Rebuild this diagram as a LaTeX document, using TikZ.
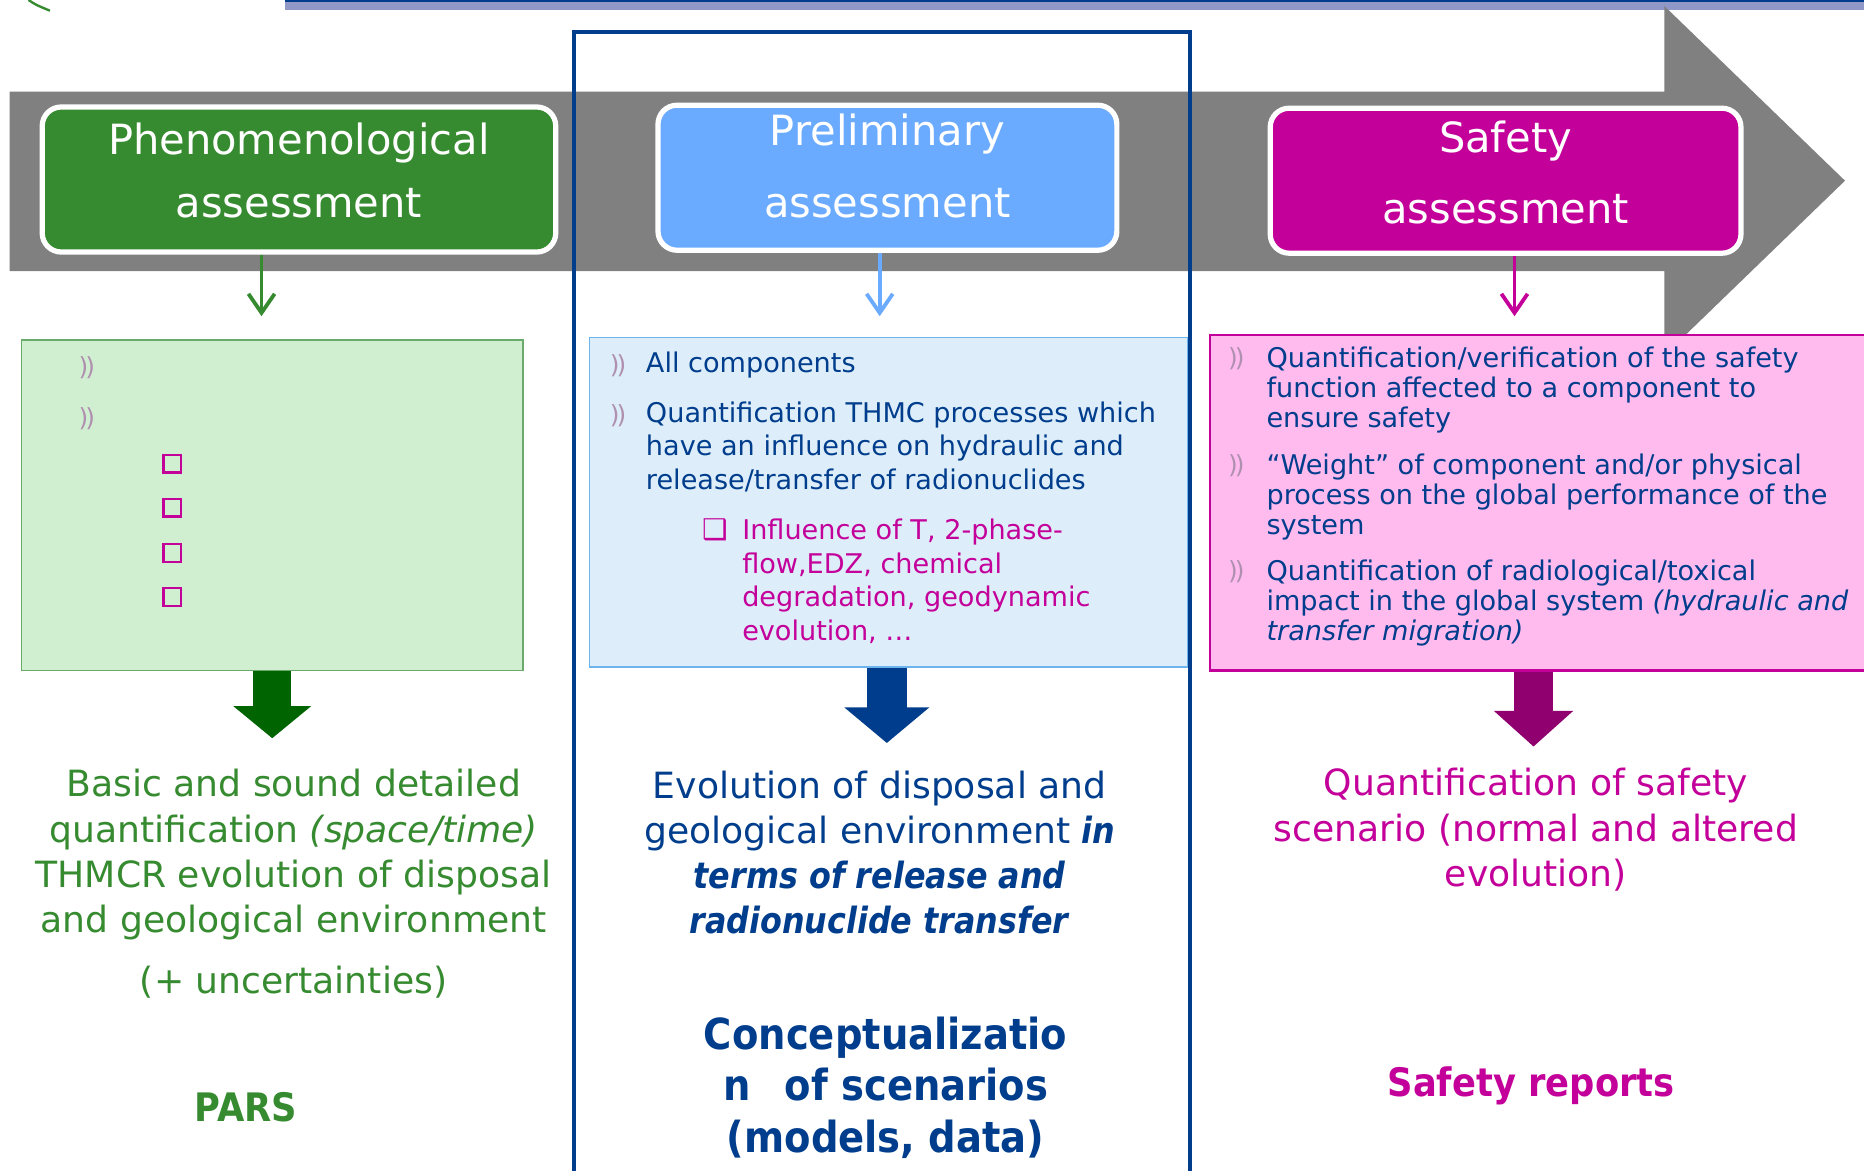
\documentclass[tikz,border=0pt]{standalone}
\usepackage{fontspec}
\setmainfont{DejaVu Sans}[BoldFeatures={FakeStretch=0.9},BoldItalicFeatures={FakeStretch=0.88}]
\usetikzlibrary{arrows.meta,positioning}

\definecolor{bandgray}{HTML}{808080}
\definecolor{phengreen}{HTML}{368A2F}
\definecolor{prelblue}{HTML}{6AAAFF}
\definecolor{safemag}{HTML}{C4009A}
\definecolor{navy}{HTML}{003D8C}
\definecolor{palegreen}{HTML}{D0EFD0}
\definecolor{edgegreen}{HTML}{6AAA6A}
\definecolor{paleblue}{HTML}{DDEEFA}
\definecolor{edgeblue}{HTML}{6CB4EC}
\definecolor{palepink}{HTML}{FFBBEE}
\definecolor{darkgreen}{HTML}{006400}
\definecolor{darkmag}{HTML}{90006E}
\definecolor{bulletgray}{HTML}{B090B0}
\definecolor{lavender}{HTML}{9098C8}

\newcommand{\chev}{)\kern-.12em)}

\tikzset{
  phase/.style={rounded corners=8pt, draw=white, line width=2.2pt, minimum height=61pt, inner sep=0pt},
  phase label/.style={text=white, align=center, font=\fontsize{17.5}{28}\selectfont, inner sep=0pt},
  panel/.style={line width=0.7pt, inner sep=0pt},
  thin arrow/.style={line width=1.6pt, -{Straight Barb[length=8pt,width=11pt]}},
  fat arrow/.style n args={3}{line width=#1, -{Triangle[width=#2,length=#3]}},
  chevron/.style={inner sep=0pt, text=bulletgray, font=\fontsize{10.5}{10.5}\selectfont},
  tickbox/.style={draw=safemag, fill=palegreen, line width=1pt, minimum size=7.5pt, inner sep=0pt},
  item/.style={anchor=base west, align=left, inner sep=0pt, text=navy},
  outcome/.style={align=center, inner sep=0pt, font=\fontsize{15.2}{19}\selectfont},
  verdict/.style={inner sep=0pt, font=\bfseries\fontsize{16.5}{19}\selectfont}
}

\begin{document}
\begin{tikzpicture}[x=0.5pt,y=-0.5pt]
\useasboundingbox (0,0) rectangle (1568,985);

% slide header remains
\fill[lavender] (240,0) rectangle (1568,8);
\draw[navy,line width=1pt] (240,0.5) -- (1568,0.5);
\draw[phengreen,line width=1pt] (24,0) .. controls (30,4) .. (42,9);

% grey process arrow
\fill[bandgray] (8,77) -- (1400,77) -- (1400,5) -- (1552,152) -- (1400,299) -- (1400,228) -- (8,228) -- cycle;

% the three phases
\node[phase, fill=phengreen, minimum width=216pt] (phen) at (251.5,151) {};
\node[phase label, font=\fontsize{17.5}{26.5}\selectfont] (phenlbl) at ([yshift=4pt]phen.center) {Phenomenological\\assessment};
\node[phase, fill=prelblue, minimum width=193pt] (prel) at (746.5,149.5) {};
\node[phase label, font=\fontsize{17.5}{30}\selectfont] (prellbl) at ([yshift=5pt]prel.center) {Preliminary\\assessment};
\node[phase, fill=safemag, minimum width=198pt] (safe) at (1266.5,152) {};
\node[phase label, font=\fontsize{17.5}{30}\selectfont] (safelbl) at ([yshift=3.5pt]safe.center) {Safety\\assessment};

\coordinate (phentip) at (220,266);
\coordinate (preltip) at (740,266);
\coordinate (safetip) at (1274,266);
\draw[thin arrow, phengreen] (phen.south -| phentip) -- (phentip);
\draw[thin arrow, prelblue] (prel.south -| preltip) -- (preltip);
\draw[thin arrow, safemag] (safe.south -| safetip) -- (safetip);

% panels
\node[panel, fill=palegreen, draw=edgegreen, minimum width=211pt, minimum height=139pt] (phenpanel) at (229,425) {};
\node[panel, fill=paleblue, draw=edgeblue, minimum width=251.5pt, minimum height=138.5pt] (prelpanel) at (747.5,422.5) {};
\node[panel, fill=palepink, draw=safemag, line width=1pt, minimum width=278.5pt, minimum height=141pt] (safepanel) at (1296.5,423) {};

% phenomenological panel (empty items)
\node[chevron] (pc1) at (73,309) {\chev};
\node[chevron] (pc2) at (73,352) {\chev};
\foreach \y [count=\i] in {390,427,465,502}
  \node[tickbox] (pbox\i) at (145,\y) {};

% preliminary panel
\node[chevron] (rc1) at (520,308) {\chev};
\node[chevron] (rc2) at (520,350) {\chev};
\node[item, font=\fontsize{11.4}{14.25}\selectfont] (rall) at (543,313) {All components};
\node[item, font=\fontsize{11.4}{14.25}\selectfont] (rthmc) at (543,412)
  {Quantification THMC processes which\\have an influence on hydraulic and\\release/transfer of radionuclides};
\node[inner sep=0pt, text=safemag, font=\fontsize{12}{12}\selectfont] (rsub) at (602,446) {❑};
\node[item, text=safemag, font=\fontsize{11.4}{14.2}\selectfont] (rinfl) at (624,539)
  {Influence of T, 2-phase-\\flow,EDZ, chemical\\degradation, geodynamic\\evolution, …};

% safety panel
\foreach \y [count=\i] in {302,392,481}
  \node[chevron] (sc\i) at (1040,\y) {\chev};
\node[item, font=\fontsize{11.4}{12.75}\selectfont] (sfunc) at (1065,360)
  {Quantification/verification of the safety\\function affected to a component to\\ensure safety};
\node[item, font=\fontsize{11.4}{12.75}\selectfont] (sweight) at (1065,450)
  {“Weight” of component and/or physical\\process on the global performance of the\\system};
\node[item, font=\fontsize{11.4}{12.75}\selectfont] (simpact) at (1065,539)
  {Quantification of radiological/toxical\\impact in the global system \textit{(hydraulic and}\\\textit{transfer migration)}};

% outcomes
\node[outcome, text=phengreen] (phenout) at (247,719)
  {Basic and sound detailed\\quantification \textit{(space/time)}\\THMCR evolution of disposal\\and geological environment};
\node[outcome, text=phengreen] (phenunc) at (247,826) {(+ uncertainties)};
\node[verdict, text=phengreen] (pars) at (207,931) {PARS};

\node[outcome, text=navy] (prelout) at (740,717)
  {Evolution of disposal and\\geological environment \textbf{\textit{in}}\\\textbf{\textit{terms of release and}}\\\textbf{\textit{radionuclide transfer}}};
\node[outcome, text=navy, font=\bfseries\fontsize{18}{21.5}\selectfont] (prelconc) at (745,915)
  {Conceptualizatio\\n\hspace{0.8em}of scenarios\\(models, data)};

\node[outcome, text=safemag] (safeout) at (1292,698)
  {Quantification of safety\\scenario (normal and altered\\evolution)};
\node[verdict, text=safemag] (safereport) at (1288,913) {Safety reports};

% fat arrows from panels to outcomes
\coordinate (phenend) at (229,621);
\coordinate (prelend) at (746,625);
\coordinate (safeend) at (1290,628);
\draw[fat arrow={16pt}{32pt}{13.5pt}, darkgreen] (phenpanel.south -| phenend) -- (phenend);
\draw[fat arrow={17pt}{35pt}{15pt}, navy] (prelpanel.south -| prelend) -- (prelend);
\draw[fat arrow={16.5pt}{32.5pt}{15pt}, darkmag] (safepanel.south -| safeend) -- (safeend);

% frame of the middle column
\draw[navy,line width=1.8pt] (483,27) rectangle (1001,1000);
\end{tikzpicture}
\end{document}
